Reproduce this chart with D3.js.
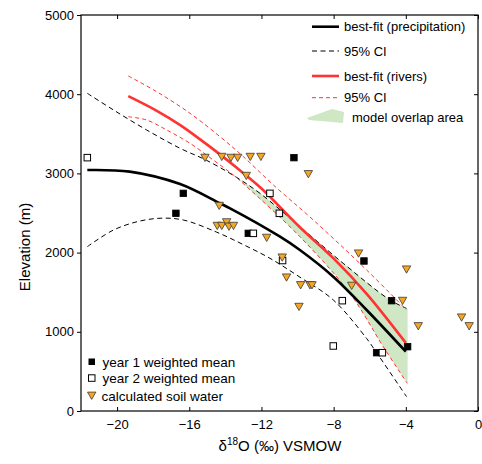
<!DOCTYPE html>
<html><head>
<meta charset="utf-8">
<script src="https://d3js.org/d3.v7.min.js"></script>
<style>
  body { margin: 0; background: #fff; }
  svg text { font-family: "Liberation Sans", Arial, Helvetica, sans-serif; fill: #000; }
  .frame { fill: none; stroke: #000; stroke-width: 1.2px; }
  .tick line { stroke: #000; stroke-width: 1px; }
</style>
</head>
<body>
<svg id="plot" width="482" height="464"></svg>
<script>
// axis ticks
const xTicks = [-20, -16, -12, -8, -4, 0];
const yTicks = [0, 1000, 2000, 3000, 4000, 5000];

// best-fit curves
const precipFitX = [-21.65, -19.3, -16.51, -14.3, -13.74, -10.97, -9.87, -8.02, -6.17, -4.0];
const precipFitY = [3043, 3022, 2865, 2622, 2559, 2201, 2033, 1696, 1275, 749];
const precipUpX = [-21.65, -20.2, -18.36, -16.51, -15.04, -13.38, -12.08, -9.87, -7.47, -4.88, -3.96];
const precipUpY = [4011, 3801, 3548, 3317, 3165, 2950, 2748, 2328, 1865, 1402, 1296];
const precipLoX = [-21.65, -20.2, -18.8, -17.5, -16.3, -14.5, -13.0, -11.53, -9.87, -8.02, -6.17, -5.66, -3.96];
const precipLoY = [2075, 2285, 2395, 2435, 2410, 2260, 2100, 1928, 1690, 1402, 915, 750, 181];

const riversFitX = [-19.38, -17.8, -16.5, -15.4, -14.3, -13.2, -12.0, -9.87, -8.02, -6.17, -4.0];
const riversFitY = [3975, 3790, 3610, 3430, 3240, 3040, 2810, 2320, 1930, 1480, 860];
const riversUpX = [-19.38, -17.81, -15.96, -14.3, -13.0, -11.34, -9.13, -6.17, -3.96];
const riversUpY = [4230, 4032, 3759, 3464, 3211, 2854, 2412, 1780, 1275];
const riversLoX = [-19.38, -18.36, -17.25, -15.96, -14.67, -13.56, -12.82, -9.87, -7.1, -5.25, -3.92];
const riversLoY = [3716, 3674, 3548, 3380, 3169, 2980, 2833, 2201, 1486, 812, 349];

// model overlap area edges
const overlapTopX = [-13.5, -12.08, -9.87, -7.47, -4.88, -3.9];
const overlapTopY = [2970, 2748, 2328, 1865, 1402, 1290];
const overlapBotX = [-13.5, -12.82, -9.87, -7.1, -5.25, -3.9];
const overlapBotY = [2970, 2833, 2201, 1486, 812, 349];

// samples
const year1X = [-16.33, -16.74, -12.73, -10.2, -6.32, -4.79, -3.9, -5.62];
const year1Y = [2748, 2496, 2243, 3199, 1894, 1393, 812, 736];
const year2X = [-21.65, -12.45, -11.53, -11.01, -10.83, -7.52, -8.02, -5.3];
const year2Y = [3199, 2243, 2748, 2496, 1900, 1393, 821, 736];
const soilX = [-15.13, -14.2, -13.69, -13.32, -12.62, -12.03, -12.84, -9.4, -14.34,
  -14.45, -14.2, -13.93, -13.8, -13.55, -11.71, -10.85, -10.61, -9.83, -9.31, -9.2,
  -9.92, -7.0, -6.62, -4.18, -3.96, -3.31, -0.91, -0.49];
const soilY = [3199, 3211, 3199, 3199, 3211, 3211, 2971, 2993, 2593,
  2340, 2340, 2385, 2330, 2340, 2189, 1940, 1688, 1591, 1590, 1590,
  1317, 1583, 1991, 1393, 1789, 1073, 1183, 1073];

const svg = d3.select("#plot");
const pLeft = 81, pRight = 478, pTop = 15, pBottom = 411;

const x = d3.scaleLinear().domain([-22, 0]).range([pLeft, pRight]);
const y = d3.scaleLinear().domain([0, 5000]).range([pBottom, pTop]);

const zip = (xs, ys) => xs.map((v, i) => [v, ys[i]]);
const line = d3.line().x(d => x(d[0])).y(d => y(d[1])).curve(d3.curveCatmullRom.alpha(0.5));

// green overlap
const topPts = zip(overlapTopX, overlapTopY);
const botPts = zip(overlapBotX, overlapBotY).reverse();
svg.append("path")
  .attr("d", line(topPts) + "L" + line(botPts).slice(1) + "Z")
  .attr("fill", "#cfe7c4").attr("stroke", "none");

// curves
const curves = [
  { xs: precipUpX, ys: precipUpY, color: "#000", w: 1, dash: "5,3.5" },
  { xs: precipLoX, ys: precipLoY, color: "#000", w: 1, dash: "5,3.5" },
  { xs: riversUpX, ys: riversUpY, color: "#ff3333", w: 1, dash: "4,3" },
  { xs: riversLoX, ys: riversLoY, color: "#ff3333", w: 1, dash: "4,3" },
  { xs: riversFitX, ys: riversFitY, color: "#ff3333", w: 2.6, dash: null },
  { xs: precipFitX, ys: precipFitY, color: "#000", w: 2.6, dash: null }
];
curves.forEach(c => {
  svg.append("path")
    .attr("d", line(zip(c.xs, c.ys)))
    .attr("fill", "none")
    .attr("stroke", c.color)
    .attr("stroke-width", c.w)
    .attr("stroke-dasharray", c.dash);
});

// axes
const fmt = d => d < 0 ? "\u2212" + Math.abs(d) : String(d);
svg.append("g").attr("transform", "translate(0," + pBottom + ")")
  .call(d3.axisBottom(x).tickValues(xTicks).tickSize(-4).tickPadding(9).tickFormat(fmt));
svg.append("g").attr("transform", "translate(" + pLeft + ",0)")
  .call(d3.axisLeft(y).tickValues(yTicks).tickSize(4).tickPadding(3).tickFormat(d3.format("d")));
svg.append("g").attr("transform", "translate(0," + pTop + ")")
  .call(d3.axisTop(x).tickValues(xTicks).tickSize(-4).tickFormat(""));
svg.append("g").attr("transform", "translate(" + pRight + ",0)")
  .call(d3.axisRight(y).tickValues(yTicks).tickSize(-4).tickFormat(""));
svg.selectAll(".domain").remove();
svg.selectAll(".tick text").attr("font-size", 13).attr("fill", "#000");
svg.append("rect").attr("class", "frame")
  .attr("x", pLeft).attr("y", pTop).attr("width", pRight - pLeft).attr("height", pBottom - pTop);

// markers
const triPath = "M-4.2,-3.4L4.2,-3.4L0,3.9Z";
const sq = 6.5;
svg.selectAll(".y1").data(zip(year1X, year1Y)).enter().append("rect")
  .attr("x", d => x(d[0]) - sq / 2).attr("y", d => y(d[1]) - sq / 2)
  .attr("width", sq).attr("height", sq)
  .attr("fill", "#000").attr("stroke", "#000").attr("stroke-width", 0.8);
svg.selectAll(".y2").data(zip(year2X, year2Y)).enter().append("rect")
  .attr("x", d => x(d[0]) - sq / 2).attr("y", d => y(d[1]) - sq / 2)
  .attr("width", sq).attr("height", sq)
  .attr("fill", "#fff").attr("stroke", "#000").attr("stroke-width", 1);
svg.selectAll(".soil").data(zip(soilX, soilY)).enter().append("path")
  .attr("transform", d => "translate(" + x(d[0]) + "," + y(d[1]) + ")")
  .attr("d", triPath)
  .attr("fill", "#f5a623").attr("stroke", "#3a3a3a").attr("stroke-width", 0.8);

// axis labels
svg.append("text")
  .attr("transform", "translate(30,247) rotate(-90)")
  .attr("text-anchor", "middle").attr("font-size", 15)
  .text("Elevation (m)");
const xl = svg.append("text")
  .attr("x", 280).attr("y", 451)
  .attr("text-anchor", "middle").attr("font-size", 15);
xl.append("tspan").text("\u03b4");
xl.append("tspan").attr("font-size", 10).attr("dy", -6).text("18");
xl.append("tspan").attr("dy", 6).text("O (\u2030) VSMOW");

// top-right legend
const legRows = [
  { y: 26.7, color: "#000", w: 2.6, dash: null, label: "best-fit (precipitation)" },
  { y: 51, color: "#000", w: 1, dash: "5,3.5", label: "95% CI" },
  { y: 76, color: "#ff3333", w: 2.6, dash: null, label: "best-fit (rivers)" },
  { y: 97.7, color: "#ff3333", w: 1, dash: "4,3", label: "95% CI" }
];
legRows.forEach(r => {
  svg.append("line").attr("x1", 312).attr("x2", 339).attr("y1", r.y).attr("y2", r.y)
    .attr("stroke", r.color).attr("stroke-width", r.w).attr("stroke-dasharray", r.dash);
  svg.append("text").attr("x", 344).attr("y", r.y + 4.5).attr("font-size", 13).text(r.label);
});
svg.append("path").attr("d", "M307,118L332,109L344,112L343,123L309,120Z").attr("fill", "#cfe7c4");
svg.append("text").attr("x", 352).attr("y", 122).attr("font-size", 13).text("model overlap area");

// bottom-left legend
svg.append("rect").attr("x", 88.5).attr("y", 358.5).attr("width", 6.5).attr("height", 6.5).attr("fill", "#000");
svg.append("rect").attr("x", 88.5).attr("y", 374.8).attr("width", 6.5).attr("height", 6.5)
  .attr("fill", "#fff").attr("stroke", "#000");
svg.append("path").attr("transform", "translate(91.7,395.5)").attr("d", triPath)
  .attr("fill", "#f5a623").attr("stroke", "#3a3a3a").attr("stroke-width", 0.8);
svg.append("text").attr("x", 102.5).attr("y", 366.5).attr("font-size", 13.5).text("year 1 weighted mean");
svg.append("text").attr("x", 102.5).attr("y", 382.5).attr("font-size", 13.5).text("year 2 weighted mean");
svg.append("text").attr("x", 101.5).attr("y", 400.5).attr("font-size", 13.5).text("calculated soil water");
</script>
</body>
</html>
